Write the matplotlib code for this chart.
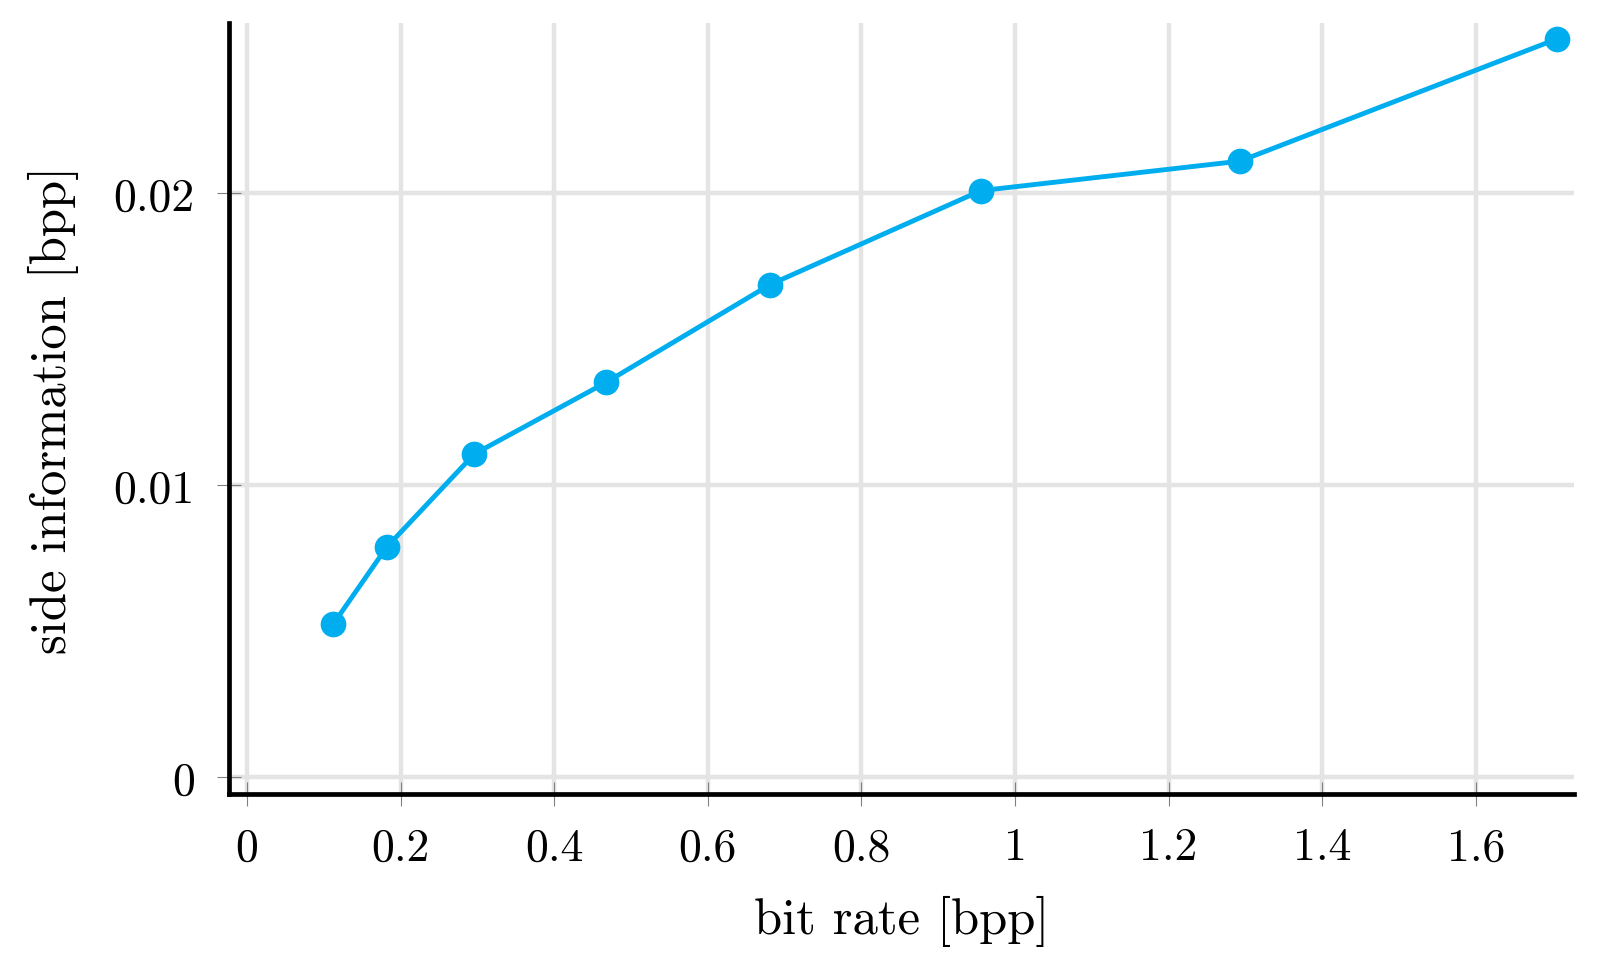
import matplotlib
matplotlib.use("Agg")
import matplotlib.pyplot as plt

# side information vs. bit rate
bit_rate = [0.1124, 0.1819, 0.2960, 0.4674, 0.6810, 0.9557, 1.2930, 1.7053]
side_info = [0.00524, 0.00787, 0.01106, 0.01351, 0.01686, 0.02008, 0.02109, 0.02527]

x_ticks = [0, 0.2, 0.4, 0.6, 0.8, 1.0, 1.2, 1.4, 1.6]
x_tick_labels = ['0', '0.2', '0.4', '0.6', '0.8', '1', '1.2', '1.4', '1.6']
y_ticks = [0, 0.01, 0.02]
y_tick_labels = ['0', '0.01', '0.02']

plt.rcParams['font.family'] = 'cmr10'
plt.rcParams['mathtext.fontset'] = 'cm'
plt.rcParams['axes.unicode_minus'] = False

fig = plt.figure(figsize=(15.98, 9.70), dpi=100)
ax = fig.add_axes([229 / 1598, 1 - 795 / 970, (1574 - 229) / 1598, (795 - 24) / 970])

ax.plot(bit_rate, side_info, color='#00AEEF', linewidth=3.5,
        marker='o', markersize=18.5, markeredgewidth=0, zorder=3, clip_on=False)

ax.set_xlim(-0.0234, 1.7279)
ax.set_ylim(-0.000582, 0.02582)

ax.set_xticks(x_ticks)
ax.set_xticklabels(x_tick_labels)
ax.set_yticks(y_ticks)
ax.set_yticklabels(y_tick_labels)

ax.grid(True, color='#e4e4e4', linewidth=3.2, zorder=0)
ax.set_axisbelow(True)

for side in ['top', 'right']:
    ax.spines[side].set_visible(False)
for side in ['left', 'bottom']:
    ax.spines[side].set_linewidth(3.4)
    ax.spines[side].set_color('black')

ax.tick_params(axis='both', direction='inout', length=17, width=0.8,
               color='#808080', labelsize=33)
ax.tick_params(axis='x', pad=15)
ax.tick_params(axis='y', pad=16)

ax.set_xlabel('bit rate [bpp]', fontsize=36.5, labelpad=19)
ax.set_ylabel('side information [bpp]', fontsize=36.5, labelpad=25)

fig.savefig('out.png', dpi=100)
